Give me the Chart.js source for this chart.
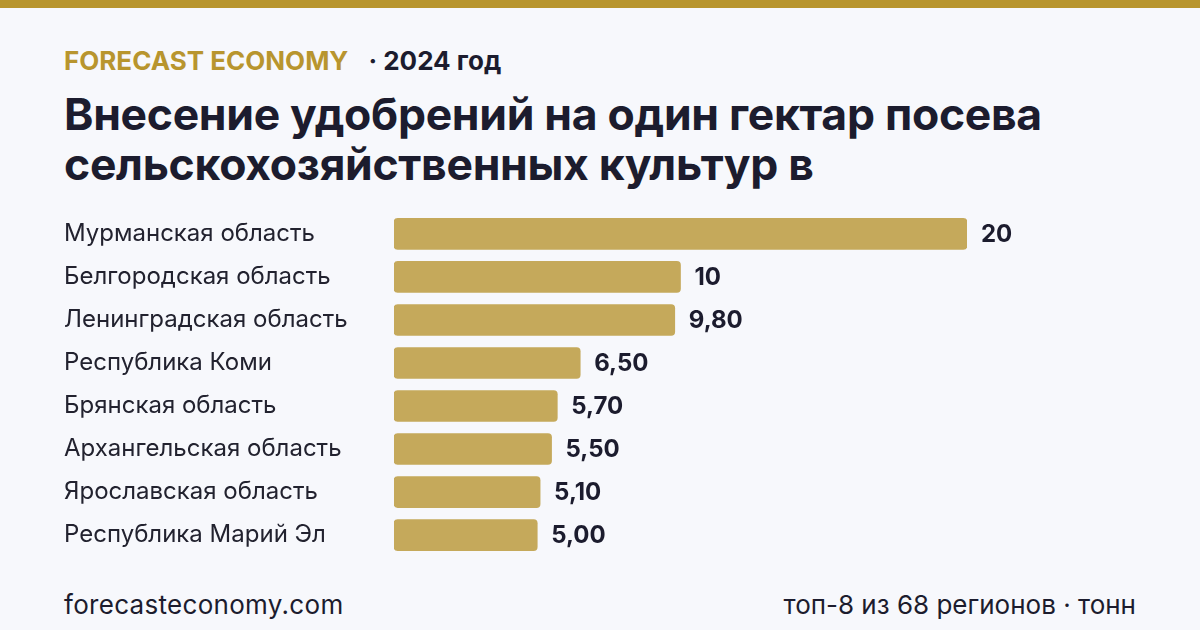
<!DOCTYPE html>
<html lang="ru">
<head>
<meta charset="utf-8">
<script src="https://cdn.jsdelivr.net/npm/chart.js@4.4.1/dist/chart.umd.min.js"></script>
<style>
  html, body { margin: 0; padding: 0; }
  body {
    width: 1200px; height: 630px; overflow: hidden; position: relative;
    background: #f7f8fc; font-family: Inter, "Noto Sans", sans-serif; color: #1c1c2e;
  }
  .topbar { position: absolute; left: 0; top: 0; width: 1200px; height: 8px; background: #b8952e; }
  .kicker { position: absolute; left: 64px; top: 44px; font-size: 26px; font-weight: 700; white-space: nowrap; line-height: 34px; }
  .kicker .brand { color: #b8952e; margin-right: 20px; }
  .title { position: absolute; left: 64px; top: 89px; font-size: 44.5px; font-weight: 700; line-height: 50px; letter-spacing: -0.3px; white-space: nowrap; }
  .chart-box { position: absolute; left: 64px; top: 195px; width: 1072px; height: 379px; }
  .footer { position: absolute; top: 589px; font-size: 26px; line-height: 32px; color: #1c1c2e; }
  .footer.left { left: 64px; letter-spacing: 0.3px; }
  .footer.right { right: 64px; }
</style>
</head>
<body>
<div class="topbar"></div>
<div class="kicker"><span class="brand">FORECAST ECONOMY</span>· 2024 год</div>
<div class="title">Внесение удобрений на один гектар посева<br>сельскохозяйственных культур в</div>
<div class="chart-box"><canvas id="barChart"></canvas></div>
<div class="footer left">forecasteconomy.com</div>
<div class="footer right">топ-8 из 68 регионов · тонн</div>

<script>
// данные
const regions = [
    'Мурманская область',
    'Белгородская область',
    'Ленинградская область',
    'Республика Коми',
    'Брянская область',
    'Архангельская область',
    'Ярославская область',
    'Республика Марий Эл'
];
const values = [20, 10, 9.8, 6.5, 5.7, 5.5, 5.1, 5.0];
// подписи значений, как на картинке
const valueTexts = ['20', '10', '9,80', '6,50', '5,70', '5,50', '5,10', '5,00'];

// подписи значений справа от столбцов
const valueLabels = {
    id: 'valueLabels',
    afterDatasetsDraw(chart) {
        const ctx = chart.ctx;
        const meta = chart.getDatasetMeta(0);
        ctx.save();
        ctx.font = '700 24px Inter, sans-serif';
        ctx.fillStyle = '#1c1c2e';
        ctx.textAlign = 'left';
        ctx.textBaseline = 'middle';
        meta.data.forEach((bar, i) => {
            ctx.fillText(valueTexts[i], bar.x + 14, bar.y + 1);
        });
        ctx.restore();
    }
};

const ctx = document.getElementById('barChart').getContext('2d');
new Chart(ctx, {
    type: 'bar',
    data: {
        labels: regions,
        datasets: [{
            data: values,
            backgroundColor: '#c5a95b',
            borderRadius: 4,
            borderSkipped: false,
            barThickness: 31
        }]
    },
    options: {
        indexAxis: 'y',
        responsive: true,
        maintainAspectRatio: false,
        animation: false,
        layout: { autoPadding: false, padding: { left: 0, right: 169, top: 0, bottom: 0 } },
        plugins: { legend: { display: false }, tooltip: { enabled: false } },
        scales: {
            x: { display: false, min: 0, max: 20 },
            y: {
                grid: { display: false },
                border: { display: false },
                afterFit: scale => { scale.width = 330; },
                ticks: {
                    crossAlign: 'far',
                    color: '#22222f',
                    font: { family: 'Inter', size: 24 }
                }
            }
        }
    },
    plugins: [valueLabels]
});
</script>
</body>
</html>
